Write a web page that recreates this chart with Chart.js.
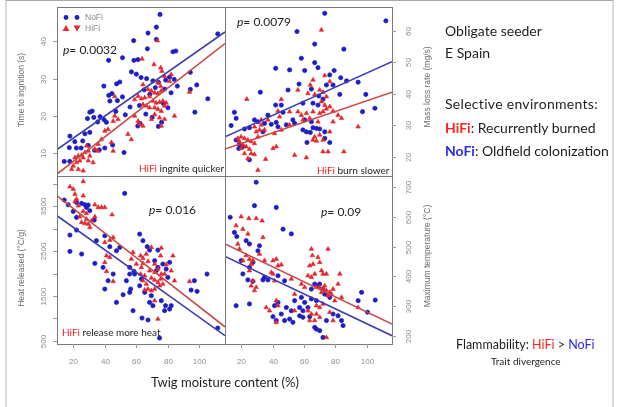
<!DOCTYPE html>
<html lang="en">
<head>
<meta charset="UTF-8">
<title>Twig moisture content and flammability</title>
<script src="https://cdn.jsdelivr.net/npm/chart.js@4"></script>
<style>
  body { margin: 0; background: #fff; }
  .slide { position: relative; width: 619px; height: 407px; overflow: hidden; background: #fff; font-family: Lato, "Open Sans", sans-serif; }
  .slide canvas { position: absolute; left: 0; top: 0; }
  .frame { position: absolute; left: 5px; top: 0; width: 605px; height: 450px; border-top: 1px solid #a8a8a8; border-left: 2px solid #dadada; border-right: 2px solid #dadada; }
  .t { position: absolute; white-space: nowrap; color: #1e1e1e; transform: translateY(-50%); line-height: 1; }
  .red { color: #ff1f1f; }
  .blue { color: #2b2bea; }
  .b { font-weight: bold; }
</style>
</head>
<body>
<div class="slide">
  <div class="frame"></div>
  <canvas id="tl" width="619" height="407"></canvas>
  <canvas id="tr" width="619" height="407"></canvas>
  <canvas id="bl" width="619" height="407"></canvas>
  <canvas id="br" width="619" height="407"></canvas>

  <div class="t" style="left:63px;top:50px;font-size:12px"><i>p</i>= 0.0032</div>
  <div class="t" style="left:139px;top:168px;font-size:10px"><span class="red">HiFi</span> ingnite quicker</div>
  <div class="t" style="left:237px;top:22px;font-size:12px"><i>p</i>= 0.0079</div>
  <div class="t" style="left:317px;top:170px;font-size:10px"><span class="red">HiFi</span> burn slower</div>
  <div class="t" style="left:149px;top:210px;font-size:12px"><i>p</i>= 0.016</div>
  <div class="t" style="left:62px;top:332px;font-size:10px"><span class="red">HiFi</span> release more heat</div>
  <div class="t" style="left:321px;top:212px;font-size:12px"><i>p</i>= 0.09</div>
  <div class="t" style="left:151px;top:382px;font-size:13px">Twig moisture content (%)</div>

  <div class="t" style="left:445px;top:31px;font-size:14px">Obligate seeder</div>
  <div class="t" style="left:445px;top:53px;font-size:14px">E Spain</div>
  <div class="t" style="left:445px;top:104px;font-size:14px;letter-spacing:0.3px">Selective environments:</div>
  <div class="t" style="left:445px;top:128px;font-size:14px"><span class="red b">HiFi</span>: Recurrently burned</div>
  <div class="t" style="left:445px;top:151px;font-size:14px"><span class="blue b">NoFi</span>: Oldfield colonization</div>
  <div class="t" style="left:456px;top:345px;font-size:12.5px">Flammability: <span class="red">HiFi</span> &gt; <span class="blue">NoFi</span></div>
  <div class="t" style="left:491px;top:361px;font-size:10px">Trait divergence</div>
</div>

<script>
// moisture axis range shared by all four panels
const xRange = [9.7, 116.2];
const xTickValues = [20, 40, 60, 80, 100];

// time to ignition (s)
const tlNoFi = [[75,47.2],[111.6,42],[72.7,43.8],[67.4,42.2],[58.3,40.2],[72.7,40.5],[67,38],[83.2,37.2],[85,37.4],[51.2,35.6],[58.5,34.9],[61,35.1],[42.4,34.9],[56.9,31.8],[49.5,29.1],[47.5,28.6],[94.2,31.7],[60,31.2],[63,30.3],[66.5,30],[70.5,29.4],[74,29],[78.6,29.6],[81,30.4],[84,29.8],[72,27.6],[78,27.2],[82,26.2],[86,28],[98.3,28.3],[94.2,27.1],[39.4,28],[42.5,25.5],[43.2,24],[51.2,25.1],[105.3,24.6],[97.1,21],[65,27],[68.5,25.8],[62,22.8],[77,23.4],[80,22.2],[30.5,21],[32,21.3],[29,19.3],[33,19.6],[35.5,18.4],[37,19.8],[39.5,19],[41,18.3],[60.9,17.3],[62.3,18],[74,17.2],[76,18.3],[17.9,14.6],[27.4,15.2],[30.5,15.6],[17.5,11.5],[22,11.4],[25,11.4],[29.5,12.1],[21,13.1],[26,13.3],[52.2,10.2],[14.3,7.8],[17.8,7.8],[33.5,10.8],[36.5,10.9],[40,11.4],[45,12.2],[47,21.2],[53,20.3],[56,22.4],[66,20.5],[70,19.6],[44.5,26],[48,24.1]];
const tlHiFi = [[73.3,40.2],[63.6,35.3],[71.2,33.8],[75.4,32.9],[76.2,32],[77.9,30.6],[82.1,31.1],[81.1,29.3],[73.7,28.9],[75.4,28],[64.2,28.4],[46.3,25.2],[67.4,27.1],[69.5,26.7],[71.6,26.2],[73.7,26],[75.8,26.7],[61.1,25.3],[63.2,24.6],[65.3,24.9],[58.9,24.4],[68.4,25.2],[70.5,24],[72.6,23.5],[74.7,23.7],[76.8,24],[77.9,22.7],[78.9,23.5],[64.2,23.1],[66.3,22.7],[68.4,22.2],[71.6,22.2],[73.7,21.8],[75.8,21.3],[84.2,20],[93.7,26.4],[71.6,20.4],[74.7,19.5],[69.5,19.1],[77.9,19.1],[58.9,20],[61.1,18.6],[75.8,17.3],[62.1,17.8],[64.2,17.3],[46.3,20],[48.4,19.1],[45.3,18.6],[40,16],[42.1,16.4],[37.9,13.7],[54.7,15.1],[56.8,13.7],[44.2,12.9],[45.3,10.6],[35.8,12.4],[33.7,11.1],[29.5,10.6],[27.4,10.2],[26.3,8.8],[25.3,9.5],[23.2,9.3],[21.1,8.8],[24.2,8],[22.1,7.5],[20,6.6],[19,5.7],[23.2,5.7],[26.3,5.3],[29.5,8],[32.6,7.5],[30.5,9.3],[28.4,12],[35.8,10.6]];
const tlNoFiFit = [11.0, 42.5];
const tlHiFiFit = [4.4, 39.4];

// mass loss rate (mg/s)
const trNoFi = [[73.3,65.6],[112.3,63.2],[55.6,59.8],[66.9,55.8],[85.5,54.2],[58.4,51.3],[66.9,49.9],[42,48.1],[50.9,47.6],[60.5,47.4],[69,48.3],[79.3,47.4],[76.5,46],[83.5,45.1],[56.9,43.1],[94.6,43.7],[74.4,42.8],[78.6,42.8],[87.2,44.1],[49.9,41.2],[64.8,41.5],[82.9,39.8],[99.5,39.8],[69.5,39.3],[72.2,38.3],[45.6,36.4],[42,36.4],[32.2,40.5],[59.4,37],[65.8,37],[69,36.4],[15.7,34.1],[46.7,34.1],[37.1,33.2],[105.3,35.4],[97.4,34.3],[28.5,31.7],[30.7,31.1],[34.9,30.6],[39.2,30.3],[42.4,30.9],[53,31.7],[60.5,31.7],[64.8,31.1],[16.8,32.2],[13.6,29.9],[22.1,28.8],[25.3,29.2],[33.9,27.9],[59.4,28.5],[61.6,27.9],[64.1,27.7],[65.8,29.2],[68,29],[70.1,28.8],[73.3,27.9],[16.8,25.3],[18.9,23.9],[21.1,23.2],[18.5,22.6],[62,24.5],[76.5,24.5],[73.3,25.8],[25.3,19],[43.5,29.5],[48.8,30.1],[54.1,30.6]];
const trHiFi = [[71.2,60.3],[65.8,44.4],[64.1,42.8],[73.3,45.8],[76.5,43.9],[23.6,38.3],[45.6,38.2],[56.2,41.2],[62.6,40.1],[66.9,39.8],[70.1,41.2],[72.2,40.5],[74.4,39.1],[71.2,37.5],[73.3,36.4],[74.4,35.2],[76.5,35.9],[78.6,34.5],[72.2,34.3],[70.1,33.8],[61.6,33.8],[65.8,34.3],[63.7,32.2],[81.8,33.2],[84,32.2],[58.4,33.2],[50.9,34.3],[43.5,34.5],[44.5,32.7],[37.1,31.7],[32.8,31.7],[32.8,30.1],[31.7,28.5],[45.6,28.5],[41.3,27.4],[28.5,29.5],[29.6,27.9],[34.9,28.5],[50.9,30.1],[94.6,29.5],[20,26.3],[22.1,25.8],[24.3,25.3],[18.9,24.8],[26.4,24.8],[28.5,24.2],[21.1,23.7],[23.2,23.2],[20,22.6],[25.3,22.4],[17.9,25.8],[30.7,26.3],[40.3,22.6],[42.4,23.2],[26.4,21],[28.5,20.7],[35.6,19.2],[61.6,19.7],[54.1,20.5],[72.2,21.6],[75.4,21.6],[85.5,21.6],[65.8,25.3],[68,25],[70.1,26.9],[72.2,25.3],[66.9,26.3],[76.5,27.9],[30.7,15.7],[22.1,21],[24.3,19.4],[59.4,31.7],[56.2,34.3],[69,31.1],[78.6,31.1]];
const trNoFiFit = [26.3, 50.2];
const trHiFiFit = [22.4, 40.5];

// heat released (°C/g)
const blNoFi = [[52.6,3791],[14.3,3642],[16.8,3538],[22.1,3590],[25.3,3567],[27.4,3538],[29.5,3530],[28.4,3478],[20,3389],[22.1,3255],[30.5,3404],[33.3,3195],[17.9,2860],[22.1,2972],[17.9,2495],[25.3,2436],[34.7,2734],[40,2845],[43.2,2600],[47.4,2510],[49.5,2585],[33.7,2227],[38.9,2138],[45.3,1989],[42.1,1840],[40,1654],[62.1,2882],[64.2,2734],[66.9,2600],[68.4,2525],[73.7,2525],[71.6,2287],[58.5,2049],[55.8,2138],[58.9,1989],[63.2,1877],[62.1,1728],[53.7,1840],[55.8,1580],[56.4,1654],[73.7,2138],[72.6,2063],[76.8,2212],[78.9,2101],[81.1,2250],[80,1915],[47.4,1356],[51.6,1527],[57.9,1170],[63.6,1006],[67.4,962],[70.5,1282],[68.4,1356],[75.8,1393],[78.5,1282],[81.1,1207],[82.1,1282],[77.9,1170],[74.7,560],[94.7,1632],[98.5,1602],[96.8,1840],[104.8,1989],[111.6,783],[65.3,1580],[69.5,1505],[55.8,1989]];
const blHiFi = [[26.3,4059],[17.9,3940],[20,3887],[21.1,3776],[22.1,3664],[26.3,3739],[21.1,3612],[23.2,3515],[33.7,3538],[35.8,3478],[37.9,3478],[40,3478],[44.6,3314],[26.3,3389],[28.4,3344],[24.2,3270],[25.3,3143],[27.4,3121],[29.5,3106],[31.6,3180],[33.7,3270],[28.4,3217],[30.5,3031],[45.3,2808],[43.2,2748],[40,2696],[41.1,2398],[43.2,2361],[40,2250],[41.1,2049],[45.3,1825],[57.9,2473],[62.7,2398],[64.2,2346],[66.3,2436],[69.5,2585],[64.2,2227],[67.4,2272],[71.6,2212],[75.8,2570],[75.4,2398],[83.2,2398],[63.2,2138],[68.4,2063],[71.6,2026],[73.7,2101],[75.8,1989],[77.9,1989],[62.7,1989],[65.3,1952],[64.2,1840],[66.3,1766],[69.5,1900],[71.6,1855],[73.7,1803],[75.4,1877],[76.8,1766],[74.7,1728],[67.4,1654],[69.5,1617],[71.6,1654],[65.3,1632],[78.9,2198],[82.1,2063],[84.2,1840],[93.7,1825],[73.7,984],[71.6,1393],[56.8,2324],[60,2212]];
const blNoFiFit = [3292, 612];
const blHiFiFit = [3738, 810];

// maximum temperature (°C)
const brNoFi = [[29.6,717],[28.5,638],[42.4,632],[13,599],[46.7,559],[52,543],[15.7,548],[17.2,534],[23.2,520],[25.3,509],[31.7,503],[30.7,486],[20,453],[25.3,430],[27.5,447],[21.1,408],[24.3,388],[27.5,383],[34.9,397],[37.1,388],[33.9,388],[43.5,402],[47.7,385],[16.8,301],[25.3,307],[41.3,301],[43.5,312],[45.6,273],[42.4,251],[40.3,264],[48.8,295],[52,284],[54.1,318],[58.4,329],[60.5,312],[57.3,295],[59.4,284],[62.6,295],[57.3,267],[59.4,262],[63.7,264],[50.9,256],[53,245],[64.8,357],[66.9,374],[69,368],[70.1,374],[72.2,357],[73.3,340],[76.5,329],[64.8,324],[68,318],[66.9,228],[68,222],[70.1,217],[74.4,251],[78.6,273],[81.8,267],[84,251],[85,234],[96.8,346],[94.6,318],[105.5,320],[100.6,279],[72.2,194],[47.7,251]];
const brHiFi = [[20,601],[24.9,595],[29.6,595],[33.4,587],[16.8,571],[21.1,559],[24.3,543],[33.9,531],[17.9,509],[18.9,492],[23.2,470],[25.3,458],[27.5,453],[21.1,453],[26.4,441],[31.7,475],[34.9,453],[40.3,453],[42.4,458],[43.5,436],[45.6,439],[25.3,419],[27.5,385],[26.4,368],[29.6,363],[28.5,352],[40.3,408],[41.3,385],[39.2,413],[52,391],[64.8,492],[65.4,470],[69,464],[75.4,492],[63.7,436],[65.8,441],[70.1,447],[62.6,402],[64.8,397],[66.9,408],[71.2,419],[72.2,408],[74.4,408],[58.4,374],[60.5,363],[68,363],[70.1,363],[72.2,357],[74.4,352],[76.5,346],[73.3,368],[71.2,346],[75.4,335],[77.6,340],[78.6,357],[82.9,408],[81.8,374],[79.7,318],[84,329],[68,301],[70.1,295],[72.2,307],[62.6,284],[64.8,273],[68,273],[70.1,262],[66.9,251],[63.7,251],[54.1,340],[54.1,284],[42.4,318],[43.5,301],[36,295],[38.1,284],[42.4,245],[76.5,279],[94.6,295],[74.4,194],[78.6,251]];
const brNoFiFit = [467, 200];
const brHiFiFit = [509, 239];

const BLUE = '#1d1dc4';
const RED = '#e5262b';
const BLUE_LINE = '#3c3cb4';
const RED_LINE = '#c84848';
const AXIS_GREY = '#8c8c8c';

// R-style panel: box, ticks outside, labels parallel to the axis
const panelAxes = {
  id: 'panelAxes',
  afterDraw(chart, args, o) {
    const { ctx, chartArea: a, scales: { x, y } } = chart;
    ctx.save();
    ctx.strokeStyle = '#7a7a7a';
    ctx.lineWidth = 1;
    ctx.strokeRect(a.left + 0.5, a.top + 0.5, a.right - a.left, a.bottom - a.top);

    ctx.strokeStyle = '#9a9a9a';
    ctx.fillStyle = AXIS_GREY;
    ctx.font = '8px "Liberation Sans", Arial, sans-serif';
    ctx.textAlign = 'center';
    ctx.textBaseline = 'middle';
    const onLeft = o.side === 'left';
    const ax = onLeft ? a.left : a.right;
    o.yTicks.forEach(v => {
      const py = Math.round(y.getPixelForValue(v)) + 0.5;
      ctx.beginPath();
      ctx.moveTo(ax, py);
      ctx.lineTo(onLeft ? ax - 4 : ax + 4, py);
      ctx.stroke();
      if (o.yLabels.includes(v)) {
        ctx.save();
        ctx.translate(onLeft ? ax - 13 : ax + 17, py);
        ctx.rotate(-Math.PI / 2);
        ctx.fillText(String(v), 0, 0);
        ctx.restore();
      }
    });
    if (o.bottom) {
      xTickValues.forEach(v => {
        const px = Math.round(x.getPixelForValue(v)) + 0.5;
        ctx.beginPath();
        ctx.moveTo(px, a.bottom);
        ctx.lineTo(px, a.bottom + 4);
        ctx.stroke();
        ctx.fillText(String(v), px, a.bottom + 18);
      });
    }
    // axis title
    ctx.fillStyle = '#6e6e6e';
    ctx.font = '8.5px "Liberation Sans", Arial, sans-serif';
    ctx.save();
    ctx.translate(o.titleX, o.titleY);
    ctx.rotate(-Math.PI / 2);
    ctx.fillText(o.title, 0, 0);
    ctx.restore();

    if (o.legend) {
      ctx.fillStyle = BLUE;
      [66, 77].forEach(cx => { ctx.beginPath(); ctx.arc(cx, 17.5, 2.4, 0, Math.PI * 2); ctx.fill(); });
      ctx.fillStyle = RED;
      ctx.beginPath(); ctx.moveTo(66, 25); ctx.lineTo(69.5, 31); ctx.lineTo(62.5, 31); ctx.fill();
      ctx.beginPath(); ctx.moveTo(73.5, 25.5); ctx.lineTo(80.5, 25.5); ctx.lineTo(77, 31.5); ctx.fill();
      ctx.fillStyle = AXIS_GREY;
      ctx.textAlign = 'left';
      ctx.font = '8.5px "Liberation Sans", Arial, sans-serif';
      ctx.fillText('NoFi', 85, 17.5);
      ctx.fillText('HiFi', 85, 28.5);
    }
    ctx.restore();
  }
};

function fitLine(fit, color) {
  return {
    data: [{ x: xRange[0], y: fit[0] }, { x: xRange[1], y: fit[1] }],
    showLine: true, borderColor: color, borderWidth: 1.6, pointRadius: 0
  };
}

function pts(list) {
  return list.map(p => ({ x: p[0], y: p[1] }));
}

function makePanel(id, box, yRange, noFi, hiFi, noFiFit, hiFiFit, axis) {
  new Chart(document.getElementById(id), {
    type: 'scatter',
    data: {
      datasets: [
        fitLine(noFiFit, BLUE_LINE),
        fitLine(hiFiFit, RED_LINE),
        { data: pts(hiFi), pointStyle: 'triangle', pointRadius: 2.6, pointBorderWidth: 0.6,
          backgroundColor: RED, borderColor: RED },
        { data: pts(noFi), pointStyle: 'circle', pointRadius: 2.1, pointBorderWidth: 0.8,
          backgroundColor: BLUE, borderColor: BLUE }
      ]
    },
    options: {
      responsive: false,
      devicePixelRatio: 1,
      animation: false,
      events: [],
      layout: { padding: { left: box[0], top: box[1], right: 619 - box[2], bottom: 407 - box[3] } },
      scales: {
        x: { type: 'linear', min: xRange[0], max: xRange[1], display: false },
        y: { type: 'linear', min: yRange[0], max: yRange[1], display: false }
      },
      plugins: { legend: { display: false }, tooltip: { enabled: false }, panelAxes: axis }
    },
    plugins: [panelAxes]
  });
}

makePanel('tl', [57, 7, 225, 176], [3.9, 49.2], tlNoFi, tlHiFi, tlNoFiFit, tlHiFiFit, {
  side: 'left', yTicks: [10, 20, 30, 40], yLabels: [10, 20, 30, 40],
  title: 'Time to ingnition (s)', titleX: 22, titleY: 90, legend: true
});
makePanel('tr', [225, 7, 392, 176], [13.85, 67.6], trNoFi, trHiFi, trNoFiFit, trHiFiFit, {
  side: 'right', yTicks: [20, 30, 40, 50, 60], yLabels: [20, 30, 40, 50, 60],
  title: 'Mass loss rate (mg/s)', titleX: 428, titleY: 87
});
makePanel('bl', [57, 176, 225, 344], [426, 4180], blNoFi, blHiFi, blNoFiFit, blHiFiFit, {
  side: 'left', yTicks: [500, 1000, 1500, 2000, 2500, 3000, 3500, 4000], yLabels: [500, 1500, 2500, 3500],
  title: 'Heat released (°C/g)', titleX: 22, titleY: 268, bottom: true
});
makePanel('br', [225, 176, 392, 344], [172, 738], brNoFi, brHiFi, brNoFiFit, brHiFiFit, {
  side: 'right', yTicks: [200, 300, 400, 500, 600, 700], yLabels: [200, 300, 400, 500, 600, 700],
  title: 'Maximum temperature (°C)', titleX: 428, titleY: 256, bottom: true
});
</script>
</body>
</html>
